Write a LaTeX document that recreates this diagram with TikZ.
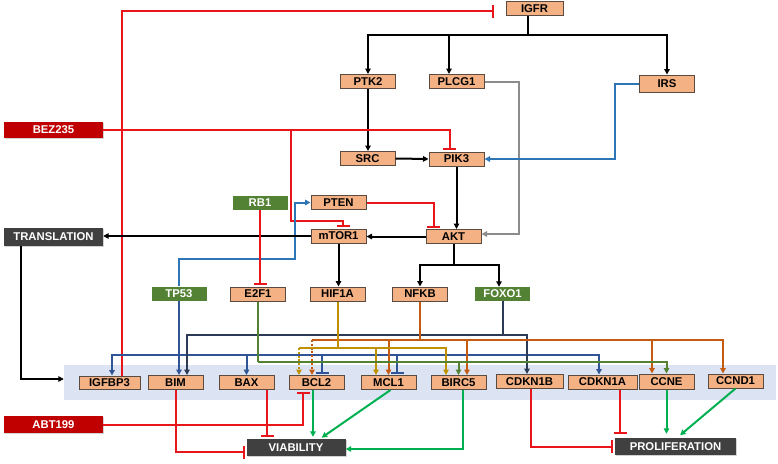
\documentclass[tikz,border=0pt]{standalone}
\usepackage{fontspec}
\setmainfont{Liberation Sans}
\usetikzlibrary{arrows.meta,shadows}
\definecolor{genefill}{HTML}{F4B183}
\definecolor{boxline}{HTML}{5A4A40}
\definecolor{tfgreen}{HTML}{548235}
\definecolor{drugred}{HTML}{C00000}
\definecolor{outgray}{HTML}{404040}
\definecolor{bandblue}{HTML}{DCE4F3}
\definecolor{redl}{HTML}{E8161B}
\definecolor{grayl}{HTML}{8C8C8C}
\definecolor{lblue}{HTML}{2E75B6}
\definecolor{blue2}{HTML}{2F5597}
\definecolor{navy}{HTML}{2B3A55}
\definecolor{orangel}{HTML}{C55A11}
\definecolor{goldl}{HTML}{BF9000}
\definecolor{greenl}{HTML}{548235}
\definecolor{brgreen}{HTML}{00B050}
\tikzset{
  gene/.style={draw=boxline, fill=genefill, line width=1pt, minimum width=55pt, minimum height=14pt, inner sep=0pt, text=black},
  tfbox/.style={fill=tfgreen, minimum width=55pt, minimum height=14pt, inner sep=0pt, text=white},
  drug/.style={fill=drugred, minimum width=99pt, minimum height=17pt, inner sep=0pt, text=white, drop shadow={shadow xshift=1.2pt, shadow yshift=-1.2pt, opacity=0.35}},
  outc/.style={fill=outgray, minimum width=99pt, minimum height=17pt, inner sep=0pt, text=white, drop shadow={shadow xshift=1.2pt, shadow yshift=-1.2pt, opacity=0.35}},
  act/.style={-{Triangle[length=5.5pt,width=5.5pt]}},
  inh/.style={-{Bar[width=13pt,line width=2pt]}, shorten >=1.5pt},
  blk/.style={draw=black, line width=2pt},
  rd/.style={draw=redl, line width=2pt},
  gr/.style={draw=grayl, line width=2pt},
  lb/.style={draw=lblue, line width=2pt},
  bl/.style={draw=blue2, line width=2pt},
  nv/.style={draw=navy, line width=2pt},
  orl/.style={draw=orangel, line width=2pt},
  gd/.style={draw=goldl, line width=2pt},
  gn/.style={draw=greenl, line width=2pt},
  bg/.style={draw=brgreen, line width=2pt},
  dots/.style={dash pattern=on 2pt off 1.8pt},
}
\begin{document}
\begin{tikzpicture}[x=1pt,y=-1pt,font=\fontsize{11.3}{13}\selectfont\bfseries]
\useasboundingbox (0,0) rectangle (778,463);
% band
\node[fill=bandblue, minimum width=712pt, minimum height=35pt, inner sep=0pt] (band) at (420,382.5) {};
% nodes
\node[gene, minimum width=57pt] (IGFR) at (534.5,8.5) {IGFR};
\node[gene] (PTK2) at (368,81.5) {PTK2};
\node[gene] (PLCG1) at (456.5,81.5) {PLCG1};
\node[gene, minimum height=17pt] (IRS) at (667,83.5) {IRS};
\node[gene] (SRC) at (367.5,158.5) {SRC};
\node[gene] (PIK3) at (456.5,159) {PIK3};
\node[tfbox] (RB1) at (260,203) {RB1};
\node[gene] (PTEN) at (338.5,202.5) {PTEN};
\node[gene] (mTOR1) at (338.5,236) {mTOR1};
\node[gene] (AKT) at (453.5,236.5) {AKT};
\node[tfbox] (TP53) at (179,293.5) {TP53};
\node[gene] (E2F1) at (258,294) {E2F1};
\node[gene] (HIF1A) at (337.5,294) {HIF1A};
\node[gene] (NFKB) at (420,294) {NFKB};
\node[tfbox] (FOXO1) at (502.5,294) {FOXO1};
\node[drug, minimum height=16pt] (BEZ235) at (53.5,130) {BEZ235};
\node[outc, minimum height=18pt] (TRANSLATION) at (53.5,237) {TRANSLATION};
\node[drug] (ABT199) at (53.5,424.5) {ABT199};
\node[gene, minimum width=61pt, minimum height=13pt] (IGFBP3) at (109.5,382.5) {IGFBP3};
\node[gene] (BIM) at (175.5,382.5) {BIM};
\node[gene] (BAX) at (246.5,382.5) {BAX};
\node[gene] (BCL2) at (316.5,382.5) {BCL2};
\node[gene] (MCL1) at (388.5,382.5) {MCL1};
\node[gene] (BIRC5) at (458.5,382.5) {BIRC5};
\node[gene, minimum width=67pt] (CDKN1B) at (529.5,381.5) {CDKN1B};
\node[gene, minimum width=69pt] (CDKN1A) at (602.5,382) {CDKN1A};
\node[gene, minimum height=15pt] (CCNE) at (666.5,381.5) {CCNE};
\node[gene] (CCND1) at (735.5,381) {CCND1};
\node[outc] (VIABILITY) at (296,447.5) {VIABILITY};
\node[outc, minimum width=121pt] (PROLIFERATION) at (675.5,446.5) {PROLIFERATION};
% level coordinates
\coordinate (Lnavy) at (0,335);
\coordinate (Lor) at (0,340);
\coordinate (Lgold) at (0,348);
\coordinate (Lblue) at (0,355);
\coordinate (Lgreen) at (0,362);
% IGFR fan-out
\coordinate (igj) at ([xshift=-6.5pt,yshift=-19pt]IGFR.south);
\draw[blk] ([xshift=-6.5pt]IGFR.south) -- (igj);
\draw[blk,act] (igj) -| (PTK2.north);
\draw[blk,act] (igj) -| ([xshift=-7.5pt]PLCG1.north);
\draw[blk,act] (igj) -| (IRS.north);
\draw[gr,act] (PLCG1.east) -- ++(34,0) |- ([yshift=2.5pt]AKT.east);
\draw[lb,act] (IRS.west) -- ++(-24,0) |- (PIK3.east);
\draw[blk,act] (PTK2.south) -- (PTK2.south |- SRC.north);
\draw[blk,act] (SRC.east) -- (PIK3.west);
\draw[blk,act] (PIK3.south) -- (PIK3.south |- AKT.north);
% BEZ235
\draw[rd,inh] (BEZ235.east) -| ([xshift=-7pt]PIK3.north);
\coordinate (bzj) at ([xshift=188pt]BEZ235.east);
\draw[rd,inh] (bzj) |- ([xshift=4.5pt,yshift=8pt]mTOR1.north) -- ([xshift=4.5pt]mTOR1.north);
% IGFBP3 -| IGFR
\draw[rd,inh] ([xshift=12.5pt]IGFBP3.north) |- ([xshift=-10.5pt,yshift=-2.5pt]IGFR.west);
% PTEN -| AKT
\draw[rd,inh] (PTEN.east) -| ([xshift=-20pt]AKT.north);
% TP53 -> PTEN
\draw[lb,act] (TP53.north) -- ++(0,-27) -- ++(116,0) |- (PTEN.west);
% AKT -> mTOR1 -> TRANSLATION
\draw[blk,act] (AKT.west) -- (AKT.west -| mTOR1.east);
\draw[blk,act] (mTOR1.west) -- (mTOR1.west -| TRANSLATION.east);
\draw[blk,act] (mTOR1.south) -- (mTOR1.south |- HIF1A.north);
% AKT -> NFKB, FOXO1
\coordinate (akj) at ([yshift=-21pt]AKT.south);
\draw[blk] (AKT.south) -- (akj);
\draw[blk,act] (akj) -| (NFKB.north);
\draw[blk,act] (akj) -| ([xshift=-3.5pt]FOXO1.north);
% RB1 -| E2F1
\draw[rd,inh] (RB1.south) -- (RB1.south |- E2F1.north);
% TRANSLATION -> band
\draw[blk,act] ([xshift=-33pt]TRANSLATION.south) |- ([yshift=3.5pt]band.west);
% TP53 targets
\draw[bl,act] (TP53.south) -- (TP53.south |- BIM.north);
\coordinate (tpj) at (TP53.south |- Lblue);
\draw[bl,act] (tpj) -| ([xshift=2.5pt]IGFBP3.north);
\draw[bl,act] (tpj) -| (BAX.north);
\draw[bl,inh] (tpj) -| ([xshift=5.5pt]BCL2.north);
\draw[bl,inh] (tpj) -| ([xshift=8.5pt]MCL1.north);
\draw[bl,act] (tpj) -| ([xshift=-3.5pt]CDKN1A.north);
% FOXO1 targets
\coordinate (fxj) at (FOXO1.south |- Lnavy);
\draw[nv] (FOXO1.south) -- (fxj);
\draw[nv,act] (fxj) -| ([xshift=11.5pt]BIM.north);
\draw[nv,act] (fxj) -| ([xshift=-2.5pt]CDKN1B.north);
% NFKB targets
\coordinate (nfj) at (NFKB.south |- Lor);
\draw[orl] (NFKB.south) -- (nfj);
\coordinate (bcl2o) at ([xshift=-4.5pt]BCL2.north);
\draw[orl] (nfj) -- (bcl2o |- Lor);
\draw[orl,act,dots] (bcl2o |- Lor) -- (bcl2o);
\draw[orl,act] (nfj) -| (MCL1.north);
\draw[orl,act] (nfj) -| ([xshift=8.5pt]BIRC5.north);
\draw[orl,act] (nfj) -| ([xshift=-14.5pt]CCNE.north);
\draw[orl,act] (nfj) -| ([xshift=-12.5pt]CCND1.north);
% HIF1A targets
\coordinate (hfj) at (HIF1A.south |- Lgold);
\draw[gd] (HIF1A.south) -- (hfj);
\coordinate (bcl2g) at ([xshift=-17.5pt]BCL2.north);
\draw[gd] (hfj) -- (bcl2g |- Lgold);
\draw[gd,act,dots] (bcl2g |- Lgold) -- (bcl2g);
\draw[gd,act] (hfj) -| ([xshift=-12.5pt]MCL1.north);
\draw[gd,act] (hfj) -| ([xshift=-12.5pt]BIRC5.north);
% E2F1 targets
\coordinate (e2j) at (E2F1.south |- Lgreen);
\draw[gn] (E2F1.south) -- (e2j);
\draw[gn,act] (e2j) -| (BIRC5.north);
\draw[gn,act] (e2j) -| (CCNE.north);
% outcomes
\draw[rd,inh] (BIM.south) |- ([yshift=-4.5pt]VIABILITY.west);
\coordinate (baxr) at ([xshift=20.5pt]BAX.south);
\draw[rd,inh] (baxr) -- (baxr |- VIABILITY.north);
\draw[rd,inh] (ABT199.east) -| ([xshift=-13.5pt]BCL2.south);
\coordinate (bclv) at ([xshift=-3.5pt]BCL2.south);
\draw[bg,act,shorten >=2pt] (bclv) -- (bclv |- VIABILITY.north);
\draw[bg,act,shorten >=2pt] ([xshift=2pt]MCL1.south) -- ([xshift=24pt]VIABILITY.north);
\draw[bg,act] ([xshift=4.5pt]BIRC5.south) |- ([yshift=-1.5pt]VIABILITY.east);
\draw[rd,inh] ([xshift=1.5pt]CDKN1B.south) |- (PROLIFERATION.west);
\coordinate (c1a) at ([xshift=17.5pt]CDKN1A.south);
\draw[rd,inh,shorten >=4pt] (c1a) -- (c1a |- PROLIFERATION.north);
\draw[bg,act,shorten >=4pt] (CCNE.south) -- (CCNE.south |- PROLIFERATION.north);
\draw[bg,act,shorten >=4pt] (CCND1.south) -- ([xshift=1.5pt]PROLIFERATION.north);
\end{tikzpicture}
\end{document}
